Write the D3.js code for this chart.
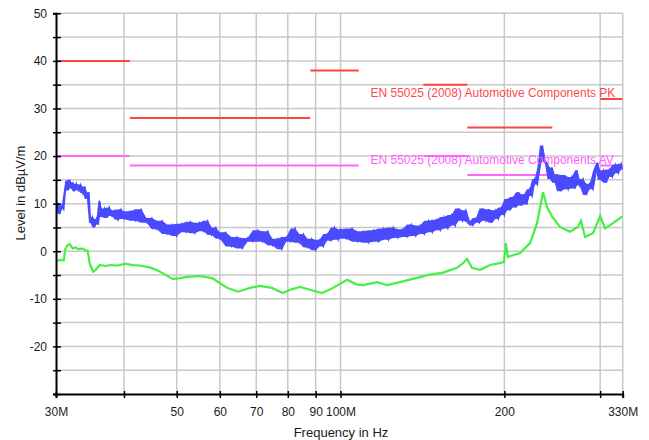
<!DOCTYPE html>
<html>
<head>
<meta charset="utf-8">
<script src="https://cdn.jsdelivr.net/npm/d3@7"></script>
<style>
  body { margin: 0; background: #fff; }
  text { font-family: Arial, "Liberation Sans", sans-serif; fill: #1a1a1a; }
</style>
</head>
<body>
<svg id="chart"></svg>
<script>
// axis ticks (frequency in MHz, level in dBµV/m)
const xTicks = [30, 40, 50, 60, 70, 80, 90, 100, 200, 300, 330];
const xTickLabels = ["30M", "", "50", "60", "70", "80", "90", "100M", "200", "", "330M"];
const xGrid = [40, 50, 60, 70, 80, 90, 100, 200, 300, 330];
const yTicks = [-30, -25, -20, -15, -10, -5, 0, 5, 10, 15, 20, 25, 30, 35, 40, 45, 50];
const yTickLabels = [-20, -10, 0, 10, 20, 30, 40, 50];

// limit lines: [start MHz, stop MHz, level]
const pkLimits = [[30, 41, 40], [41, 88, 28], [88, 108, 38], [142, 171, 35], [171, 245, 26], [300, 330, 32]];
const avLimits = [[30, 41, 20], [41, 108, 18], [142, 171, 20], [171, 245, 16], [300, 330, 18]];

// peak trace (blue)
const pkFreq = [
  30, 30.25, 30.5, 30.75, 31, 31.2, 31.4, 31.6, 31.8, 32, 32.2, 32.4, 32.7, 33, 33.3, 33.6, 33.9, 34.2, 34.5, 34.7,
  35, 35.3, 35.6, 35.9, 36.1, 36.4, 36.8, 37.2, 37.6, 38, 38.5, 39, 39.5, 40,
  41, 42, 43, 44, 45, 46, 47, 48, 49, 50, 51, 52, 53, 54, 55, 56, 57, 58, 59, 60,
  61.5, 63, 64.5, 66, 67.5, 69, 70.5, 72, 73.5, 75, 76.5, 78, 79.5, 81, 82.5, 84, 85.5, 87, 88.5, 90,
  91.5, 93, 94.5, 96, 97.5, 99, 100,
  102.5, 105, 107.5, 110, 112.5, 115, 117.5, 120, 122.5, 125, 127.5, 130, 132.5, 135, 137.5, 140, 142.5, 145,
  147.5, 150, 152.5, 155, 157.5, 160, 162.5, 165, 167.5, 170, 172.5, 175, 177.5, 180, 182.5, 185, 187.5, 190,
  192.5, 195, 197.5, 200, 202.5, 205, 207.5, 210, 212.5, 215, 217.5, 220, 222.5, 225, 227.5, 230, 232.5, 235,
  237.5, 240, 242.5, 245, 247.5, 250, 254, 258, 262, 266, 270, 272, 275, 279, 283, 287, 291, 295, 297, 300,
  304, 308, 312, 316, 320, 324, 328, 330
];
const pkLevel = [
  8.5, 10.2, 7.8, 9.6, 8.8, 12.5, 14.8, 12.8, 15.0, 13.2, 14.5, 12.6, 14.2, 12.8, 14.0, 12.2, 13.6, 11.0, 12.4, 6.0,
  7.2, 5.0, 6.8, 5.6, 10.6, 7.2, 9.0, 7.0, 9.2, 7.4, 8.6, 6.6, 8.8, 6.8,
  8.4, 6.4, 8.8, 6.0, 7.0, 4.6, 6.4, 3.6, 5.6, 3.2, 5.8, 4.0, 6.2, 3.8, 6.0, 4.2, 6.4, 3.4, 5.0, 2.6,
  4.0, 1.0, 3.0, 0.6, 2.8, 2.0, 4.4, 2.0, 4.2, 1.2, 2.6, 0.4, 3.0, 2.0, 4.8, 1.8, 3.6, 0.8, 2.6, 0.2,
  2.4, 1.0, 3.6, 2.2, 5.0, 2.4, 4.6,
  2.6, 4.8, 2.0, 4.2, 1.8, 4.4, 2.0, 4.8, 2.4, 5.0, 2.8, 4.6, 3.0, 5.6, 3.2, 5.4, 3.6, 6.4,
  4.0, 6.6, 4.4, 7.2, 4.8, 7.6, 5.4, 9.0, 6.4, 8.6, 6.2, 5.4, 7.0, 6.0, 9.0, 6.4, 8.8, 6.0,
  8.6, 6.8, 9.2, 7.6, 11.0, 8.6, 11.4, 9.2, 12.4, 9.6, 12.0, 9.8, 13.0, 11.6, 15.2, 14.0, 17.6, 22.2,
  19.0, 18.4, 15.2, 17.6, 14.4, 16.2, 12.6, 16.0, 13.0, 15.6, 13.2, 17.0, 13.8, 15.2, 11.8, 14.2, 13.0, 16.8, 18.6, 15.0,
  17.0, 14.4, 17.2, 15.6, 18.2, 16.4, 18.4, 17.2
];

// average trace (green)
const avFreq = [
  30, 30.5, 31, 31.2, 31.5, 31.8, 32.2, 32.6, 33, 33.5, 34, 34.3, 34.6, 35.1, 35.5, 36.1, 37, 37.7, 39, 40.2,
  41.5, 42.8, 44.6, 46, 47.1, 49.1, 50.5, 52.3, 55.2, 57, 58.2, 59.3, 61.9, 64.8, 68.2, 71.1, 74.8, 78.4, 80.8, 84.2,
  87.9, 92.5, 96.9, 102.8, 107.2, 110, 116.7, 121.7, 128.6, 138.2, 146, 154.3, 163.7, 167.9, 170.8, 174.4, 180.5, 188.3, 193.9, 199.7,
  201.2, 203.1, 213.7, 223, 229.7, 234.6, 235.6, 239.6, 244.7, 253, 264, 273, 276.6, 281.4, 291, 300, 306.2, 316.8, 330
];
const avLevel = [
  -2.2, -1.8, -1.9, 0.4, 1.3, 1.5, 0.6, 0.8, 0.4, 0.6, 0.2, 0.1, -2.6, -4.3, -3.9, -2.9, -3.1, -2.9, -3.0, -2.6,
  -2.9, -3.0, -3.4, -4.0, -4.6, -5.8, -5.7, -5.4, -5.2, -5.5, -5.7, -6.3, -7.7, -8.5, -7.7, -7.3, -7.7, -8.8, -8.1, -7.5,
  -8.1, -8.8, -7.7, -6.0, -7.0, -7.1, -6.5, -7.1, -6.5, -5.6, -4.9, -4.5, -3.5, -2.5, -1.6, -3.5, -3.9, -2.9, -2.6, -2.3,
  1.7, -1.2, -0.4, 1.7, 5.9, 11.4, 12.4, 9.3, 7.3, 5.1, 4.1, 5.1, 6.4, 3.0, 3.8, 7.4, 4.8, 5.9, 7.4
];

const W = 649, H = 440;
const margin = { top: 13.3, right: 26.3, bottom: 46, left: 56 };

const svg = d3.select("#chart").attr("width", W).attr("height", H);

const x = d3.scaleLog().domain([30, 330]).range([margin.left, W - margin.right]);
const y = d3.scaleLinear().domain([-30, 50]).range([H - margin.bottom, margin.top]);

svg.append("defs").append("clipPath").attr("id", "plot-clip")
  .append("rect")
  .attr("x", x(30)).attr("y", y(50))
  .attr("width", x(330) - x(30)).attr("height", y(-30) - y(50));

// grid
const grid = svg.append("g").attr("stroke", "#c8c8c8").attr("stroke-width", 1.5);
grid.selectAll(".vg").data(xGrid).enter().append("line")
  .attr("x1", d => x(d)).attr("x2", d => x(d))
  .attr("y1", y(50)).attr("y2", y(-30));
grid.selectAll(".hg").data(yTicks.filter(d => d > -30)).enter().append("line")
  .attr("x1", x(30)).attr("x2", x(330))
  .attr("y1", d => y(d)).attr("y2", d => y(d));

const plot = svg.append("g").attr("clip-path", "url(#plot-clip)");

// limit lines
plot.selectAll(".pk-lim").data(pkLimits).enter().append("line")
  .attr("x1", d => x(d[0])).attr("x2", d => x(d[1]))
  .attr("y1", d => y(d[2])).attr("y2", d => y(d[2]))
  .attr("stroke", "#ff4444").attr("stroke-width", 2);
plot.selectAll(".av-lim").data(avLimits).enter().append("line")
  .attr("x1", d => x(d[0])).attr("x2", d => x(d[1]))
  .attr("y1", d => y(d[2])).attr("y2", d => y(d[2]))
  .attr("stroke", "#ff66ff").attr("stroke-width", 2);

// peak trace: the noisy reading is shown as the band it sweeps plus the line
const pk = pkFreq.map((f, i) => [f, pkLevel[i]]);
const band = d3.area()
  .x(d => x(d[0]))
  .y0((d, i) => y(Math.min(d[1], pk[Math.min(i + 1, pk.length - 1)][1])))
  .y1((d, i) => y(Math.max(d[1], pk[Math.min(i + 1, pk.length - 1)][1])));
plot.append("path")
  .datum(pk)
  .attr("d", band)
  .attr("fill", "#4a4aff");
const line = d3.line().x(d => x(d[0])).y(d => y(d[1]));
plot.append("path")
  .datum(pk)
  .attr("d", line)
  .attr("fill", "none").attr("stroke", "#4a4aff").attr("stroke-width", 1.4);

// average trace
plot.append("path")
  .datum(avFreq.map((f, i) => [f, avLevel[i]]))
  .attr("d", line)
  .attr("fill", "none").attr("stroke", "#44f044").attr("stroke-width", 2.2);

// limit labels
const labels = svg.append("g").attr("clip-path", "url(#plot-clip)");
labels.append("text")
  .attr("x", 370.5).attr("y", 97)
  .style("font-size", "12px").style("fill", "#ff4848")
  .text("EN 55025 (2008) Automotive Components PK");
labels.append("text")
  .attr("x", 370.5).attr("y", 164)
  .style("font-size", "12px").style("fill", "#ff5cff")
  .text("EN 55025 (2008) Automotive Components AV");

// axes
const xAxis = d3.axisBottom(x)
  .tickValues(xTicks)
  .tickFormat((d, i) => xTickLabels[i])
  .tickSizeOuter(0)
  .tickSize(4)
  .tickPadding(9);
const gx = svg.append("g")
  .attr("transform", `translate(0,${y(-30)})`)
  .call(xAxis);
gx.selectAll(".tick line").attr("y1", -3).attr("stroke", "#000").attr("stroke-width", 1.5);
gx.select(".domain").attr("stroke", "#000").attr("stroke-width", 2);
gx.selectAll("text").style("font-size", "12px").style("fill", "#1a1a1a");

const yAxis = d3.axisLeft(y)
  .tickValues(yTicks)
  .tickFormat(d => (yTickLabels.includes(d) ? d : ""))
  .tickSizeOuter(0)
  .tickSize(3)
  .tickPadding(6);
const gy = svg.append("g")
  .attr("transform", `translate(${x(30)},0)`)
  .call(yAxis);
gy.selectAll(".tick line").attr("x1", 5).attr("stroke", "#000").attr("stroke-width", 1.5);
gy.select(".domain").attr("stroke", "#000").attr("stroke-width", 2);
gy.selectAll("text").style("font-size", "12px").style("fill", "#1a1a1a");

// axis titles
svg.append("text")
  .attr("x", 341).attr("y", 437)
  .attr("text-anchor", "middle")
  .style("font-size", "13px")
  .text("Frequency in Hz");
svg.append("text")
  .attr("transform", "translate(25,193) rotate(-90)")
  .attr("text-anchor", "middle")
  .style("font-size", "13px")
  .text("Level in dBµV/m");
</script>
</body>
</html>
